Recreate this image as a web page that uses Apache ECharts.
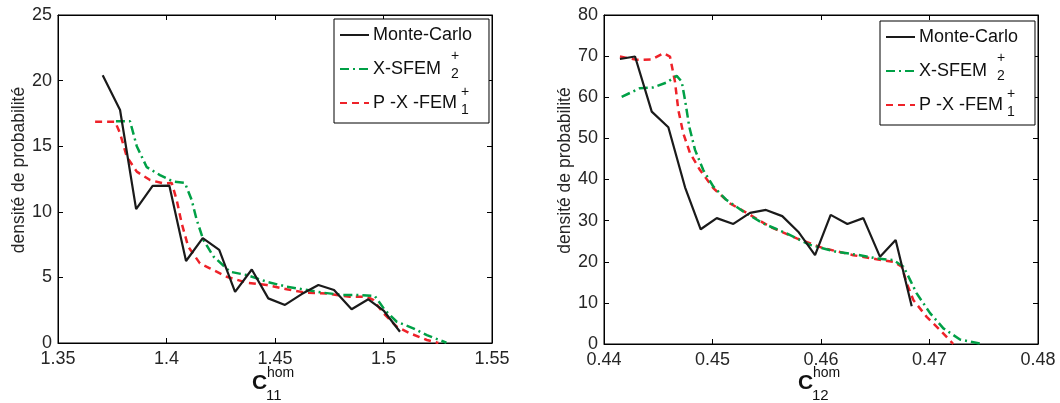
<!DOCTYPE html>
<html>
<head>
<meta charset="utf-8">
<script src="https://cdn.jsdelivr.net/npm/echarts@6/dist/echarts.min.js"></script>
<style>
html,body{margin:0;padding:0;background:#fff;}
#chart{width:1060px;height:403px;}
</style>
</head>
<body>
<div id="chart"></div>
<script>
// ---------- Data ----------
const seriesNames = ['Monte-Carlo', 'X-SFEM', 'P-X-FEM'];
const legendLabels = ['Monte-Carlo', 'X-SFEM', 'P -X -FEM'];
const yTitle = 'densité de probabilité';

// Left panel: C11 hom
const leftXTicks = [1.35, 1.4, 1.45, 1.5, 1.55];
const leftYTicks = [0, 5, 10, 15, 20, 25];
const leftMcX = [1.3706, 1.3786, 1.386, 1.3936, 1.4013, 1.409, 1.4167, 1.4243, 1.4316, 1.4393, 1.4469, 1.4546, 1.4623, 1.470, 1.4772, 1.4853, 1.493, 1.5002, 1.5076];
const leftMcY = [20.4, 17.76, 10.2, 11.97, 12.0, 6.25, 8.0, 7.09, 3.9, 5.6, 3.4, 2.9, 3.73, 4.42, 4.04, 2.57, 3.33, 2.44, 0.86];
const leftXsX = [1.3767, 1.3832, 1.3863, 1.3909, 1.397, 1.4031, 1.4085, 1.4116, 1.4139, 1.417, 1.4216, 1.4293, 1.437, 1.4462, 1.4554, 1.463, 1.4723, 1.4815, 1.4892, 1.496, 1.5007, 1.5061, 1.5137, 1.52, 1.529];
const leftXsY = [16.9, 16.9, 15.0, 13.4, 12.8, 12.3, 12.2, 10.9, 9.4, 7.85, 6.6, 5.43, 5.18, 4.67, 4.29, 4.09, 3.83, 3.66, 3.66, 3.58, 2.5, 1.62, 1.12, 0.6, 0.02];
const leftPxX = [1.3671, 1.3763, 1.3786, 1.3817, 1.3863, 1.3924, 1.3985, 1.4024, 1.4047, 1.407, 1.41, 1.4154, 1.42, 1.4277, 1.437, 1.4462, 1.4554, 1.4646, 1.4738, 1.4784, 1.4845, 1.4922, 1.4953, 1.5, 1.5061, 1.5122, 1.52, 1.5253];
const leftPxY = [16.87, 16.87, 15.98, 14.2, 13.06, 12.42, 12.17, 12.2, 10.9, 9.12, 7.34, 6.07, 5.69, 5.05, 4.6, 4.42, 4.09, 3.83, 3.78, 3.66, 3.53, 3.53, 3.28, 2.26, 1.24, 0.74, 0.23, 0];

// Right panel: C12 hom
const rightXTicks = [0.44, 0.45, 0.46, 0.47, 0.48];
const rightYTicks = [0, 10, 20, 30, 40, 50, 60, 70, 80];
const rightMcX = [0.44147, 0.44286, 0.4444, 0.44593, 0.44747, 0.44891, 0.45039, 0.45192, 0.45346, 0.45493, 0.45643, 0.4579, 0.45945, 0.46089, 0.46243, 0.4639, 0.46544, 0.46688, 0.46836];
const rightMcY = [69.3, 69.9, 56.5, 52.7, 38.1, 27.9, 30.6, 29.2, 31.9, 32.6, 31.1, 27.3, 21.6, 31.4, 29.2, 30.6, 21.2, 25.3, 9.2];
const rightXsX = [0.44163, 0.44332, 0.44454, 0.44577, 0.4467, 0.44716, 0.44747, 0.44786, 0.44839, 0.44915, 0.45007, 0.4513, 0.45284, 0.45468, 0.45683, 0.45899, 0.46144, 0.4636, 0.46513, 0.46667, 0.4676, 0.46821, 0.46882, 0.47005, 0.47128, 0.47281, 0.47481];
const rightXsY = [60.1, 62.2, 62.4, 63.6, 65.2, 63.8, 59.3, 52.8, 47.2, 42.3, 38.3, 35.0, 32.2, 29.3, 26.9, 24.1, 22.4, 21.6, 20.8, 20.4, 18.8, 15.6, 12.3, 7.5, 3.8, 1.1, 0];
const rightPxX = [0.44147, 0.443, 0.4444, 0.44547, 0.44608, 0.44654, 0.44685, 0.44731, 0.44793, 0.44885, 0.45007, 0.45161, 0.45346, 0.4553, 0.45776, 0.46021, 0.46298, 0.46513, 0.46667, 0.46744, 0.4679, 0.46851, 0.46974, 0.47097, 0.47219];
const rightPxY = [69.9, 69.1, 69.2, 70.7, 69.9, 63.8, 56.9, 51.2, 46.4, 42.3, 37.9, 34.2, 31.4, 28.5, 25.7, 23.3, 21.6, 20.6, 20.0, 18.8, 14.8, 10.7, 6.6, 3.4, 0];

// ---------- Chart ----------
const FONT = '"Liberation Sans", Arial, Helvetica, sans-serif';
const TXT = '#262626';
const zip = (xs, ys) => xs.map((x, i) => [x, ys[i]]);

const styles = [
  { color: '#1a1a1a', width: 2.2, type: 'solid' },
  { color: '#00a046', width: 2.5, type: [9, 4, 2, 4] },
  { color: '#ee2229', width: 2.5, type: [7, 5] }
];

function xAxes(gridIndex, ticks) {
  const min = ticks[0], max = ticks[ticks.length - 1], interval = +(ticks[1] - ticks[0]).toFixed(6);
  const common = {
    type: 'value', gridIndex, min, max, interval,
    splitLine: { show: false },
    axisLine: { show: true, onZero: false, lineStyle: { color: '#000', width: 1 } },
    axisTick: { show: true, inside: true, length: 5, lineStyle: { color: '#000' } }
  };
  return [
    Object.assign({}, common, {
      position: 'bottom',
      axisLabel: { color: TXT, fontSize: 18, fontFamily: FONT, margin: 7,
        formatter: v => String(+v.toFixed(4)) }
    }),
    Object.assign({}, common, { position: 'top', axisLabel: { show: false } })
  ];
}
function yAxes(gridIndex, ticks) {
  const min = ticks[0], max = ticks[ticks.length - 1], interval = ticks[1] - ticks[0];
  const common = {
    type: 'value', gridIndex, min, max, interval,
    splitLine: { show: false },
    axisLine: { show: true, onZero: false, lineStyle: { color: '#000', width: 1 } },
    axisTick: { show: true, inside: true, length: 5, lineStyle: { color: '#000' } }
  };
  return [
    Object.assign({}, common, {
      position: 'left',
      name: yTitle, nameLocation: 'middle', nameGap: 29, nameRotate: 90,
      nameTextStyle: { color: TXT, fontSize: 17.5, fontFamily: FONT, padding: [0, 0, 0, 18] },
      axisLabel: { color: TXT, fontSize: 18, fontFamily: FONT, margin: 6 }
    }),
    Object.assign({}, common, { position: 'right', axisLabel: { show: false } })
  ];
}

// Monte-Carlo and P-X-FEM use bottom/left axes; X-SFEM uses the (identical) top/right axes
function makeSeries(xBase, yBase, datasets) {
  return datasets.map((d, i) => ({
    name: seriesNames[i], type: 'line',
    xAxisIndex: xBase + (i === 1 ? 1 : 0), yAxisIndex: yBase + (i === 1 ? 1 : 0),
    data: d, showSymbol: false, symbol: 'none', smooth: false, clip: true,
    lineStyle: { color: styles[i].color, width: styles[i].width, type: styles[i].type },
    itemStyle: { color: styles[i].color },
    z: 3 - i
  }));
}

function legend(left, top) {
  return {
    orient: 'vertical', left, top,
    data: seriesNames,
    itemWidth: 29, itemHeight: 14, itemGap: 14,
    itemStyle: { opacity: 0 },
    padding: [6, 16, 10, 5],
    borderColor: '#000', borderWidth: 1, backgroundColor: '#fff',
    selectedMode: false,
    formatter: n => {
      const i = seriesNames.indexOf(n);
      return i === 0 ? legendLabels[i] : legendLabels[i] + '{sp|}';
    },
    textStyle: { color: '#111', fontSize: 18, fontFamily: FONT, lineHeight: 20, padding: [0, 0, 0, -1],
      rich: { sp: { width: 16 } } }
  };
}

function supSub(x, y) {
  return [
    { type: 'text', left: x, top: y, z: 100, style: { text: '+', font: '14px ' + FONT, fill: '#111' } },
    { type: 'text', left: x, top: y + 18, z: 100, style: { text: '2', font: '14px ' + FONT, fill: '#111' } },
    { type: 'text', left: x + 10, top: y + 36, z: 100, style: { text: '+', font: '14px ' + FONT, fill: '#111' } },
    { type: 'text', left: x + 10, top: y + 54, z: 100, style: { text: '1', font: '14px ' + FONT, fill: '#111' } }
  ];
}
function axisTitle(x, sub) {
  return [
    { type: 'text', left: x, top: 373, style: { text: 'C', font: 'bold 21px ' + FONT, fill: '#111' } },
    { type: 'text', left: x + 15, top: 366, style: { text: 'hom', font: '14px ' + FONT, fill: '#111' } },
    { type: 'text', left: x + 14, top: 388, style: { text: sub, font: '15px ' + FONT, fill: '#111' } }
  ];
}

const chart = echarts.init(document.getElementById('chart'), null, { renderer: 'canvas' });
chart.setOption({
  animation: false,
  backgroundColor: '#fff',
  grid: [
    { left: 58, right: 568, top: 15, bottom: 60, show: true, borderColor: '#000', borderWidth: 1 },
    { left: 604, right: 22, top: 15, bottom: 59, show: true, borderColor: '#000', borderWidth: 1 }
  ],
  xAxis: [...xAxes(0, leftXTicks), ...xAxes(1, rightXTicks)],
  yAxis: [...yAxes(0, leftYTicks), ...yAxes(1, rightYTicks)],
  legend: [legend(334, 19), legend(880, 21)],
  series: [
    ...makeSeries(0, 0, [zip(leftMcX, leftMcY), zip(leftXsX, leftXsY), zip(leftPxX, leftPxY)]),
    ...makeSeries(2, 2, [zip(rightMcX, rightMcY), zip(rightXsX, rightXsY), zip(rightPxX, rightPxY)])
  ],
  graphic: [
    ...supSub(451, 49), ...supSub(997, 51),
    ...axisTitle(252, '11'), ...axisTitle(798, '12')
  ]
});
</script>
</body>
</html>
